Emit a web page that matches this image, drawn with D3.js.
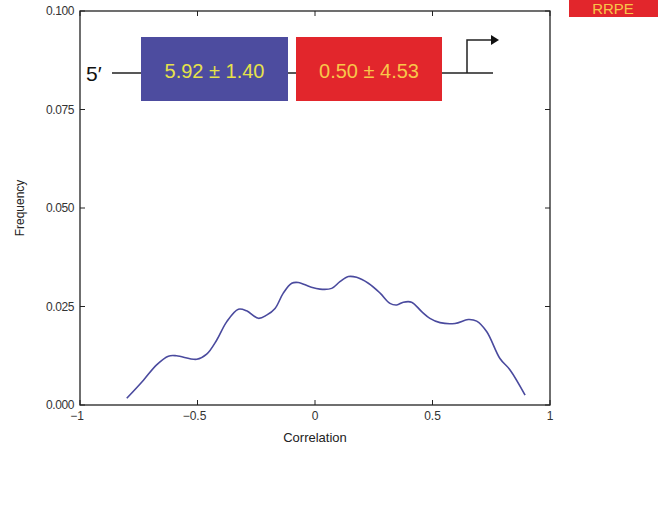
<!DOCTYPE html>
<html>
<head>
<meta charset="utf-8">
<script src="https://cdn.jsdelivr.net/npm/d3@7"></script>
<style>
  body { margin: 0; background: #fff; }
  svg { display: block; font-family: "Liberation Sans", Arial, sans-serif; }
</style>
</head>
<body>
<svg width="659" height="509"></svg>
<script>
// correlation values (x) and the smoothed frequency (y)
var corr = [-0.801, -0.73, -0.674, -0.624, -0.589, -0.503, -0.461, -0.418, -0.376, -0.326,
  -0.291, -0.241, -0.206, -0.170, -0.135, -0.099, -0.071, -0.021, 0.021, 0.071,
  0.106, 0.142, 0.177, 0.227, 0.277, 0.319, 0.348, 0.376, 0.411, 0.454,
  0.489, 0.532, 0.596, 0.652, 0.688, 0.731, 0.787, 0.830, 0.894];
var freq = [0.0017, 0.0063, 0.0102, 0.0124, 0.0125, 0.0116, 0.0129, 0.0165, 0.0211, 0.0243,
  0.0239, 0.0220, 0.0228, 0.0245, 0.0284, 0.0309, 0.0311, 0.0300, 0.0294, 0.0296,
  0.0313, 0.0326, 0.0324, 0.0309, 0.0284, 0.0258, 0.0254, 0.0261, 0.0261, 0.0237,
  0.0220, 0.0209, 0.0207, 0.0217, 0.0213, 0.0186, 0.0118, 0.0089, 0.0025];
var xTicks = [-1, -0.5, 0, 0.5, 1];
var xTickLabels = ["\u22121", "\u22120.5", "0", "0.5", "1"];
var yTicks = [0, 0.025, 0.05, 0.075, 0.1];
var yTickLabels = ["0.000", "0.025", "0.050", "0.075", "0.100"];
var motifs = ["5.92 \u00b1 1.40", "0.50 \u00b1 4.53"];
var tag = "RRPE";

var svg = d3.select("svg"),
  margin = {top: 11, right: 109, bottom: 104, left: 80},
  width = 659 - margin.left - margin.right,
  height = 509 - margin.top - margin.bottom;

var x = d3.scaleLinear().domain([-1, 1]).range([0, width]),
  y = d3.scaleLinear().domain([0, 0.1]).range([height, 0]);

var g = svg.append("g")
  .attr("transform", "translate(" + margin.left + "," + margin.top + ")");

// box frame
g.append("rect")
  .attr("width", width).attr("height", height)
  .attr("fill", "none").attr("stroke", "#222").attr("stroke-width", 1.3);

// ticks inward on all four sides, MATLAB style
var tl = 5;
g.selectAll(".xt").data(xTicks).enter().append("path")
  .attr("stroke", "#222")
  .attr("d", function(d) { return "M" + x(d) + "," + height + "v" + (-tl) + "M" + x(d) + ",0v" + tl; });
g.selectAll(".yt").data(yTicks).enter().append("path")
  .attr("stroke", "#222")
  .attr("d", function(d) { return "M0," + y(d) + "h" + tl + "M" + width + "," + y(d) + "h" + (-tl); });

g.selectAll(".xl").data(xTicks).enter().append("text")
  .attr("x", function(d) { return x(d); })
  .attr("y", height + 15)
  .attr("text-anchor", "middle")
  .attr("fill", "#333")
  .style("font-size", "12px")
  .text(function(d, i) { return xTickLabels[i]; })
  .attr("dx", function(d) { return d < 0 ? -3 : 0; });

g.selectAll(".yl").data(yTicks).enter().append("text")
  .attr("x", -6)
  .attr("y", function(d) { return y(d); })
  .attr("dy", "0.35em")
  .attr("text-anchor", "end")
  .attr("fill", "#333")
  .style("font-size", "12px")
  .style("letter-spacing", "-0.4px")
  .text(function(d, i) { return yTickLabels[i]; });

g.append("text")
  .attr("x", width / 2).attr("y", height + 37)
  .attr("text-anchor", "middle").attr("fill", "#222")
  .style("font-size", "13px")
  .text("Correlation");

g.append("text")
  .attr("transform", "translate(-56," + (y(0.05)) + ") rotate(-90)")
  .attr("text-anchor", "middle").attr("fill", "#222")
  .style("font-size", "12px")
  .text("Frequency");

// the curve
var line = d3.line()
  .x(function(d, i) { return x(corr[i]); })
  .y(function(d) { return y(d); })
  .curve(d3.curveCatmullRom);

g.append("path")
  .datum(freq)
  .attr("fill", "none")
  .attr("stroke", "#4a4a9e")
  .attr("stroke-width", 1.6)
  .attr("d", line);

// promoter sketch inset
var ins = svg.append("g");
ins.append("text").attr("x", 86).attr("y", 81)
  .style("font-size", "21px").attr("fill", "#111").text("5\u2032");
ins.append("path").attr("stroke", "#222").attr("stroke-width", 1.5).attr("fill", "none")
  .attr("d", "M112,73H493M467,73V40H492");
ins.append("path").attr("fill", "#111").attr("d", "M491,35L499,40L491,45Z");

var boxes = [{x: 141, w: 147, fill: "#4d4c9f", text: "#e6e24a"},
             {x: 296, w: 146, fill: "#e2262c", text: "#f8c64a"}];
ins.selectAll(".mb").data(boxes).enter().append("rect")
  .attr("x", function(d) { return d.x; }).attr("y", 37)
  .attr("width", function(d) { return d.w; }).attr("height", 64)
  .attr("fill", function(d) { return d.fill; });
ins.selectAll(".mt").data(boxes).enter().append("text")
  .attr("x", function(d) { return d.x + d.w / 2; }).attr("y", 71)
  .attr("dy", "0.35em").attr("text-anchor", "middle")
  .attr("fill", function(d) { return d.text; })
  .style("font-size", "20px")
  .text(function(d, i) { return motifs[i]; });

// tag top right (cut by the page edge in the source, kept readable here)
svg.append("rect").attr("x", 569).attr("y", 0).attr("width", 89).attr("height", 17).attr("fill", "#e2262c");
svg.append("text").attr("x", 613).attr("y", 14).attr("text-anchor", "middle")
  .attr("fill", "#f8c64a").style("font-size", "15px").text(tag);
</script>
</body>
</html>
